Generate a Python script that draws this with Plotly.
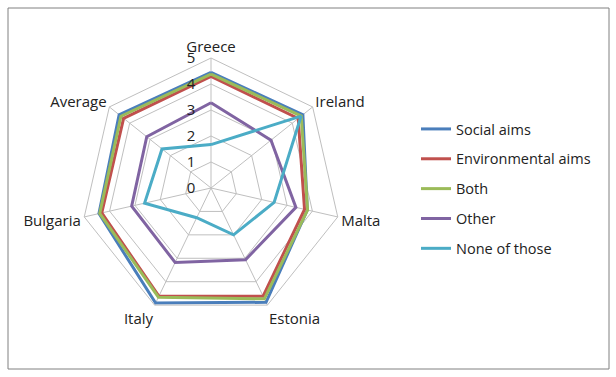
import plotly.graph_objects as go

categories = ["Greece", "Ireland", "Malta", "Estonia", "Italy", "Bulgaria", "Average"]
series_names = ["Social aims", "Environmental aims", "Both", "Other", "None of those"]
social = [4.45, 4.52, 3.80, 4.88, 4.91, 4.42, 4.52]
environmental = [4.29, 4.29, 3.69, 4.62, 4.62, 4.31, 4.30]
both = [4.38, 4.44, 3.81, 4.73, 4.66, 4.39, 4.43]
other = [3.28, 2.95, 3.35, 3.06, 3.18, 3.13, 3.16]
none_of_those = [1.67, 4.43, 2.49, 2.00, 1.27, 2.62, 2.41]
radial_ticks = [0, 1, 2, 3, 4, 5]

colors = ["#4A7EBB", "#C0504D", "#9BBB59", "#8064A2", "#4BACC6"]
values = [social, environmental, both, other, none_of_those]

fig = go.Figure()
for i, (name, vals) in enumerate(zip(series_names, values)):
    fig.add_trace(go.Scatterpolar(
        r=vals + vals[:1],
        theta=categories + categories[:1],
        mode="lines",
        name=name,
        legendgroup=f"g{i}",
        line=dict(color=colors[i], width=3),
    ))

W, H = 616, 377
cx, cy, R = 211, 188, 130
fig.update_layout(
    width=W, height=H,
    margin=dict(l=0, r=0, t=0, b=0),
    paper_bgcolor="white",
    plot_bgcolor="white",
    font=dict(family="Open Sans", size=14, color="#222"),
    polar=dict(
        domain=dict(x=[(cx - R) / W, (cx + R) / W], y=[1 - (cy + R) / H, 1 - (cy - R) / H]),
        bgcolor="white",
        gridshape="linear",
        angularaxis=dict(
            rotation=90, direction="clockwise",
            categoryorder="array", categoryarray=categories,
            showline=True, linecolor="#BFBFBF", linewidth=1,
            gridcolor="#BFBFBF", ticks="",
            tickfont=dict(size=15, color="#222"),
        ),
        radialaxis=dict(
            range=[0, 5], tickvals=radial_ticks, angle=90, tickangle=90,
            showline=False, gridcolor="#BFBFBF",
            ticks="outside", ticklen=10, tickcolor="rgba(0,0,0,0)",
            side="counterclockwise",
            tickfont=dict(size=15, color="#222"),
        ),
    ),
    legend=dict(
        x=416 / W, y=1 - 113 / H, xanchor="left", yanchor="top",
        traceorder="grouped", tracegroupgap=8,
        font=dict(size=14.5, color="#222"),
        itemwidth=30,
    ),
    shapes=[dict(type="rect", xref="paper", yref="paper",
                 x0=8 / W, x1=609 / W, y0=1 - 369 / H, y1=1 - 8 / H,
                 line=dict(color="#808080", width=1))],
)
fig.write_html("out.html", config={"displayModeBar": False},
               post_script="document.body.style.margin='0';")
